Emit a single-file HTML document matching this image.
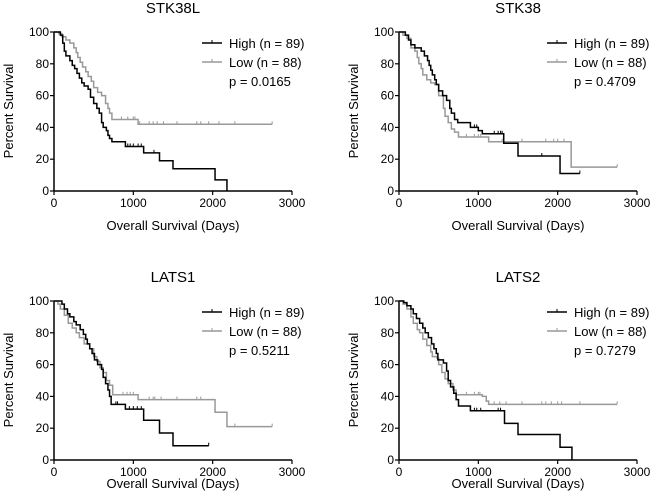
<!DOCTYPE html>
<html><head><meta charset="utf-8"><style>
body{margin:0;background:#fff;}
svg{display:block;font-family:"Liberation Sans",Arial,sans-serif;}
</style></head><body>
<svg id="c" width="650" height="500"></svg>
<script>
const xTicks=[0,1000,2000,3000];
const yTicks=[0,20,40,60,80,100];
const titles=["STK38L","STK38","LATS1","LATS2"];
const pvals=["p = 0.0165","p = 0.4709","p = 0.5211","p = 0.7279"];
const highT=[
[0,80,110,130,150,200,230,260,290,320,350,380,430,460,500,540,570,600,620,660,680,700,730,900,1130,1330,1500,2030,2180],
[0,80,120,150,200,280,320,360,380,400,420,450,470,500,550,600,640,660,700,740,900,1000,1050,1320,1500,2030,2280],
[0,100,130,170,200,250,280,330,370,400,420,450,480,510,550,600,620,650,680,700,720,900,1130,1330,1500,1950],
[0,60,100,150,180,220,260,300,330,370,410,440,470,490,560,600,620,650,690,720,750,900,1330,1500,2030,2180]];
const highS=[
[100,98,93,88,85,82,79,77,74,71,68,66,64,59,55,52,49,43,40,38,35,33,31,28,24,19,14,7,0],
[100,98,95,92,90,88,85,82,79,76,73,70,67,63,60,57,52,49,45,43,40,38,36,30,22,11,11],
[100,98,95,92,90,87,85,82,79,76,73,70,67,63,60,57,52,48,44,40,35,32,25,17,9,9],
[100,99,97,95,92,89,86,83,80,77,73,70,67,63,61,56,50,46,42,38,34,31,23,16,8,0]];
const lowT=[
[0,60,100,150,200,250,280,300,330,360,400,430,470,500,550,600,650,680,700,730,1060,2750],
[0,50,100,150,200,230,250,280,300,350,400,450,500,560,580,620,660,700,750,1130,2170,2750],
[0,50,80,130,180,230,280,320,380,450,500,540,580,620,660,700,740,1060,2030,2180,2750],
[0,50,100,150,180,230,260,300,350,400,420,480,500,540,580,620,680,720,1050,1100,1130,2750]];
const lowS=[
[100,99,97,95,93,90,87,84,81,78,75,72,69,65,62,60,55,52,49,45,42,42],
[100,98,96,90,88,84,80,77,73,70,68,67,60,52,47,43,39,37,34,31,15,15],
[100,98,95,91,86,83,80,77,73,70,65,62,58,55,50,47,41,38,30,21,21],
[100,98,95,90,86,82,80,76,72,68,65,64,60,55,51,48,44,41,40,37,35,35]];
const highC=[[930,960,1000,1060,1100,1260,2030],[950,980,1000,1200,1250,1280,1300,1320,1800,2280],[780,800,900,950,1000,1050,1100,1330,1950],[950,980,1030,1250,1280]];
const lowC=[[850,930,1000,1020,1080,1200,1250,1300,1380,1550,1800,1850,1950,2080,2280,2750],[850,950,1000,1030,1300,1550,1850,1950,2000,2080,2750],[870,920,960,1000,1200,1250,1270,1350,1550,1800,1850,2030,2280,2750],[850,950,1000,1020,1200,1270,1350,1550,1800,1850,1920,2000,2050,2280,2750]];
const origins=[[54,191],[399,191],[54,460],[399,460]];
const xTitleOff=[39,39,28,28];
const NS="http://www.w3.org/2000/svg";
const svg=document.getElementById('c');
function mk(t,a,p){const e=document.createElementNS(NS,t);for(const k in a)e.setAttribute(k,a[k]);(p||svg).appendChild(e);return e;}
function stepAt(T,S,t){let v=S[0];for(let i=0;i<T.length;i++){if(T[i]<=t)v=S[i];}return v;}
for(let p=0;p<4;p++){
  const [ox,oy]=origins[p];
  const X=v=>ox+v/3000*238, Y=v=>oy-v/100*159;
  const g=mk('g',{});
  
  
  const t=mk('text',{x:ox+119,y:oy-178,'text-anchor':'middle','font-size':15},g);t.textContent=titles[p];
  
  mk('line',{x1:ox,y1:oy-159,x2:ox,y2:oy,stroke:'#000','stroke-width':1.5},g);
  mk('line',{x1:ox,y1:oy,x2:ox+238,y2:oy,stroke:'#000','stroke-width':1.5},g);
  xTicks.forEach(v=>{mk('line',{x1:X(v),y1:oy,x2:X(v),y2:oy+4,stroke:'#000','stroke-width':1.2},g);
    const l=mk('text',{x:X(v),y:oy+16,'text-anchor':'middle','font-size':12},g);l.textContent=v;
    });
  yTicks.forEach(v=>{mk('line',{x1:ox-4,y1:Y(v),x2:ox,y2:Y(v),stroke:'#000','stroke-width':1.2},g);
    const l=mk('text',{x:ox-5,y:Y(v)+4,'text-anchor':'end','font-size':12},g);l.textContent=v;
    });
  const xt=mk('text',{x:ox+119,y:oy+xTitleOff[p],'text-anchor':'middle','font-size':13},g);xt.textContent='Overall Survival (Days)';
  
  const yt=mk('text',{x:0,y:0,'text-anchor':'middle','font-size':13,transform:`translate(${ox-41},${oy-80}) rotate(-90)`},g);yt.textContent='Percent Survival';
  
  const series=[[lowT[p],lowS[p],lowC[p],'#999','low'],[highT[p],highS[p],highC[p],'#000','high']];
  series.forEach(([T,S,C,col,nm])=>{
    let d=`M${X(T[0])},${Y(S[0])}`;
    for(let i=1;i<T.length;i++){d+=`H${X(T[i])}V${Y(S[i])}`;}
    const path=mk('path',{d:d,fill:'none',stroke:col,'stroke-width':1.5},g);
    
    C.forEach(c=>{const v=stepAt(T,S,c);
      const m=mk('line',{x1:X(c),y1:Y(v)-3,x2:X(c),y2:Y(v),stroke:col,'stroke-width':1},g);
      });
  });
  const lx=ox+148;
  [['High (n = 89)','#000',0],['Low (n = 88)','#999',1]].forEach(([s,col,i])=>{
    const ly=oy-148+i*19;
    mk('line',{x1:lx,y1:ly,x2:lx+20,y2:ly,stroke:col,'stroke-width':1.5},g);
    mk('line',{x1:lx+10,y1:ly-3,x2:lx+10,y2:ly,stroke:col,'stroke-width':1},g);
    const tx=mk('text',{x:lx+27,y:ly+5,'font-size':13},g);tx.textContent=s;
    
  });
  const pt=mk('text',{x:lx+27,y:oy-105,'font-size':13},g);pt.textContent=pvals[p];
  
}
</script>
</body></html>
